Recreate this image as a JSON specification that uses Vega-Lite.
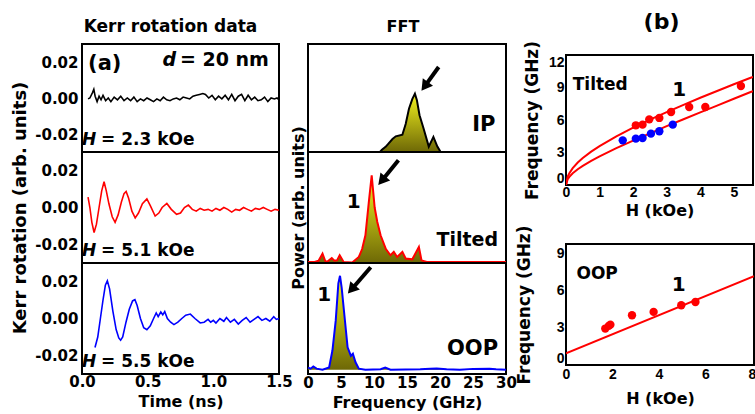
{
"$schema": "https://vega.github.io/schema/vega-lite/v6.json",
"background": "white",
"padding": {"left": 10, "top": 10, "right": 0, "bottom": 0},
"datasets": {
"k23": [{"t":0.046,"v":-0.0005},{"t":0.06,"v":0},{"t":0.08,"v":0.003},{"t":0.09,"v":0.0048},{"t":0.1,"v":0.001},{"t":0.115,"v":-0.002},{"t":0.13,"v":0.001},{"t":0.145,"v":-0.001},{"t":0.16,"v":0.0015},{"t":0.18,"v":-0.0015},{"t":0.2,"v":0},{"t":0.22,"v":-0.002},{"t":0.245,"v":0.0005},{"t":0.27,"v":-0.001},{"t":0.295,"v":0.001},{"t":0.32,"v":-0.0015},{"t":0.345,"v":0},{"t":0.37,"v":-0.0015},{"t":0.395,"v":0.0005},{"t":0.42,"v":-0.002},{"t":0.445,"v":-0.0005},{"t":0.47,"v":-0.0015},{"t":0.495,"v":0},{"t":0.52,"v":-0.001},{"t":0.545,"v":-0.002},{"t":0.57,"v":-0.0005},{"t":0.595,"v":-0.0015},{"t":0.62,"v":0.0005},{"t":0.645,"v":-0.001},{"t":0.67,"v":-0.0015},{"t":0.695,"v":-0.0005},{"t":0.72,"v":0},{"t":0.745,"v":-0.001},{"t":0.77,"v":0.0005},{"t":0.795,"v":0},{"t":0.82,"v":-0.0005},{"t":0.845,"v":0.001},{"t":0.87,"v":0.0015},{"t":0.895,"v":0.002},{"t":0.92,"v":0.0025},{"t":0.94,"v":0.002},{"t":0.965,"v":0},{"t":0.99,"v":0.0015},{"t":1.015,"v":-0.001},{"t":1.04,"v":0.001},{"t":1.065,"v":-0.0005},{"t":1.09,"v":0.0015},{"t":1.115,"v":-0.001},{"t":1.14,"v":0.002},{"t":1.165,"v":-0.0015},{"t":1.19,"v":0.001},{"t":1.215,"v":0.002},{"t":1.24,"v":-0.0015},{"t":1.265,"v":0.0015},{"t":1.29,"v":-0.001},{"t":1.315,"v":0.0005},{"t":1.34,"v":-0.0015},{"t":1.365,"v":-0.001},{"t":1.39,"v":0.0005},{"t":1.415,"v":-0.002},{"t":1.44,"v":0},{"t":1.465,"v":-0.0005},{"t":1.485,"v":0},{"t":1.5,"v":-0.001}],
"k51": [{"t":0.046,"v":0.0056},{"t":0.06,"v":0},{"t":0.075,"v":-0.008},{"t":0.092,"v":-0.0135},{"t":0.11,"v":-0.009},{"t":0.13,"v":0},{"t":0.15,"v":0.009},{"t":0.168,"v":0.0139},{"t":0.185,"v":0.009},{"t":0.205,"v":0.002},{"t":0.23,"v":-0.005},{"t":0.252,"v":-0.008},{"t":0.275,"v":-0.004},{"t":0.3,"v":0.003},{"t":0.32,"v":0.0075},{"t":0.336,"v":0.0087},{"t":0.355,"v":0.005},{"t":0.38,"v":-0.002},{"t":0.405,"v":-0.0056},{"t":0.43,"v":-0.003},{"t":0.46,"v":0.002},{"t":0.494,"v":0.0046},{"t":0.52,"v":0.001},{"t":0.557,"v":-0.0046},{"t":0.585,"v":-0.003},{"t":0.61,"v":0},{"t":0.646,"v":0.0022},{"t":0.68,"v":-0.001},{"t":0.72,"v":-0.0037},{"t":0.75,"v":-0.003},{"t":0.78,"v":0},{"t":0.81,"v":0.0013},{"t":0.84,"v":-0.001},{"t":0.87,"v":-0.002},{"t":0.9,"v":-0.0005},{"t":0.93,"v":-0.0015},{"t":0.96,"v":-0.001},{"t":0.99,"v":-0.002},{"t":1.02,"v":-0.0005},{"t":1.05,"v":-0.0015},{"t":1.08,"v":0},{"t":1.11,"v":-0.001},{"t":1.14,"v":-0.0025},{"t":1.17,"v":-0.001},{"t":1.2,"v":-0.0015},{"t":1.23,"v":0},{"t":1.26,"v":-0.001},{"t":1.29,"v":-0.002},{"t":1.32,"v":-0.0005},{"t":1.35,"v":-0.001},{"t":1.38,"v":0},{"t":1.41,"v":-0.001},{"t":1.44,"v":-0.002},{"t":1.47,"v":-0.001},{"t":1.5,"v":-0.0015}],
"k55": [{"t":0.099,"v":-0.0157},{"t":0.12,"v":-0.01},{"t":0.14,"v":0},{"t":0.16,"v":0.01},{"t":0.178,"v":0.018},{"t":0.193,"v":0.0204},{"t":0.21,"v":0.016},{"t":0.235,"v":0.004},{"t":0.26,"v":-0.006},{"t":0.28,"v":-0.0105},{"t":0.294,"v":-0.0117},{"t":0.31,"v":-0.01},{"t":0.335,"v":-0.002},{"t":0.36,"v":0.005},{"t":0.385,"v":0.0095},{"t":0.403,"v":0.0102},{"t":0.42,"v":0.007},{"t":0.445,"v":0},{"t":0.47,"v":-0.005},{"t":0.494,"v":-0.0061},{"t":0.52,"v":-0.004},{"t":0.545,"v":0},{"t":0.565,"v":0.003},{"t":0.58,"v":0.001},{"t":0.6,"v":0.0035},{"t":0.615,"v":0.002},{"t":0.63,"v":0.0037},{"t":0.65,"v":0},{"t":0.675,"v":-0.002},{"t":0.7,"v":-0.0033},{"t":0.73,"v":-0.002},{"t":0.76,"v":0},{"t":0.79,"v":0.0018},{"t":0.825,"v":0.0024},{"t":0.86,"v":0},{"t":0.9,"v":-0.0024},{"t":0.93,"v":-0.002},{"t":0.96,"v":-0.0005},{"t":0.98,"v":-0.002},{"t":1.0,"v":-0.001},{"t":1.02,"v":-0.0025},{"t":1.05,"v":0},{"t":1.08,"v":-0.0015},{"t":1.1,"v":0.0005},{"t":1.13,"v":-0.002},{"t":1.16,"v":-0.0005},{"t":1.19,"v":-0.003},{"t":1.22,"v":-0.001},{"t":1.25,"v":0.0005},{"t":1.28,"v":-0.002},{"t":1.31,"v":-0.0005},{"t":1.34,"v":0.001},{"t":1.37,"v":-0.001},{"t":1.4,"v":0},{"t":1.43,"v":-0.0015},{"t":1.46,"v":0.001},{"t":1.48,"v":-0.0005},{"t":1.5,"v":0}],
"ip": [{"f":0,"p":0},{"f":10.9,"p":0},{"f":11.2,"p":0.02},{"f":11.8,"p":0.05},{"f":12.8,"p":0.12},{"f":13.3,"p":0.145},{"f":14.3,"p":0.16},{"f":14.8,"p":0.26},{"f":15.3,"p":0.4},{"f":15.8,"p":0.49},{"f":16.2,"p":0.54},{"f":16.5,"p":0.48},{"f":16.9,"p":0.34},{"f":17.5,"p":0.22},{"f":18.3,"p":0.05},{"f":19.0,"p":0.14},{"f":19.6,"p":0.05},{"f":20.1,"p":0},{"f":30,"p":0}],
"tilt": [{"f":0,"p":0.01},{"f":1.0,"p":0.01},{"f":1.6,"p":0.02},{"f":2.2,"p":0.084},{"f":2.6,"p":0.02},{"f":2.9,"p":0.01},{"f":3.6,"p":0.045},{"f":4.0,"p":0.02},{"f":4.4,"p":0.024},{"f":4.8,"p":0.07},{"f":5.4,"p":0.01},{"f":6.7,"p":0.005},{"f":7.7,"p":0.054},{"f":8.2,"p":0.126},{"f":8.7,"p":0.25},{"f":9.2,"p":0.54},{"f":9.65,"p":0.79},{"f":10.1,"p":0.5},{"f":10.5,"p":0.37},{"f":11.0,"p":0.25},{"f":11.8,"p":0.126},{"f":12.5,"p":0.07},{"f":13.0,"p":0.1},{"f":13.5,"p":0.054},{"f":14.3,"p":0.1},{"f":14.8,"p":0.04},{"f":15.8,"p":0.033},{"f":16.8,"p":0.144},{"f":17.2,"p":0.024},{"f":18.0,"p":0.01},{"f":30,"p":0.01}],
"oopf": [{"f":0,"p":0.02},{"f":0.4,"p":0.01},{"f":0.8,"p":0.03},{"f":1.3,"p":0.01},{"f":2.2,"p":0},{"f":3.2,"p":0.022},{"f":3.7,"p":0.18},{"f":4.2,"p":0.46},{"f":4.6,"p":0.81},{"f":4.85,"p":0.88},{"f":5.1,"p":0.77},{"f":5.5,"p":0.52},{"f":6.0,"p":0.21},{"f":6.5,"p":0.13},{"f":6.8,"p":0.15},{"f":7.2,"p":0.07},{"f":7.7,"p":0.01},{"f":8.7,"p":0},{"f":11.0,"p":0.005},{"f":11.7,"p":0.02},{"f":12.5,"p":0},{"f":17,"p":0.005},{"f":18.5,"p":0.01},{"f":19.5,"p":0.012},{"f":21,"p":0.005},{"f":23,"p":0},{"f":25,"p":0.008},{"f":27.5,"p":0.01},{"f":28.5,"p":0.005},{"f":30,"p":0}],
"tiltPts": [{"mode":"1","H":2.08,"fr":5.51},{"mode":"1","H":2.28,"fr":5.57},{"mode":"1","H":2.48,"fr":6.06},{"mode":"1","H":2.78,"fr":6.19},{"mode":"1","H":3.13,"fr":6.74},{"mode":"1","H":3.67,"fr":7.2},{"mode":"1","H":4.15,"fr":7.2},{"mode":"1","H":5.21,"fr":9.14},{"mode":"2","H":1.69,"fr":4.12},{"mode":"2","H":2.08,"fr":4.28},{"mode":"2","H":2.28,"fr":4.34},{"mode":"2","H":2.53,"fr":4.74},{"mode":"2","H":2.78,"fr":4.96},{"mode":"2","H":3.18,"fr":5.57}],
"tiltFit": [{"curve":"u","H":0,"fr":0},{"curve":"u","H":0.05,"fr":0.77},{"curve":"u","H":0.1,"fr":1.09},{"curve":"u","H":0.2,"fr":1.55},{"curve":"u","H":0.35,"fr":2.07},{"curve":"u","H":0.5,"fr":2.49},{"curve":"u","H":0.75,"fr":3.08},{"curve":"u","H":1,"fr":3.59},{"curve":"u","H":1.5,"fr":4.49},{"curve":"u","H":2,"fr":5.29},{"curve":"u","H":2.5,"fr":6.03},{"curve":"u","H":3,"fr":6.73},{"curve":"u","H":3.5,"fr":7.4},{"curve":"u","H":4,"fr":8.05},{"curve":"u","H":4.5,"fr":8.68},{"curve":"u","H":5,"fr":9.3},{"curve":"u","H":5.5,"fr":9.9},{"curve":"u","H":5.57,"fr":9.98},{"curve":"l","H":0,"fr":0},{"curve":"l","H":0.05,"fr":0.53},{"curve":"l","H":0.1,"fr":0.75},{"curve":"l","H":0.2,"fr":1.08},{"curve":"l","H":0.35,"fr":1.46},{"curve":"l","H":0.5,"fr":1.77},{"curve":"l","H":0.75,"fr":2.23},{"curve":"l","H":1,"fr":2.64},{"curve":"l","H":1.5,"fr":3.4},{"curve":"l","H":2,"fr":4.1},{"curve":"l","H":2.5,"fr":4.77},{"curve":"l","H":3,"fr":5.43},{"curve":"l","H":3.5,"fr":6.07},{"curve":"l","H":4,"fr":6.71},{"curve":"l","H":4.5,"fr":7.33},{"curve":"l","H":5,"fr":7.96},{"curve":"l","H":5.5,"fr":8.58},{"curve":"l","H":5.57,"fr":8.67}],
"oopPts": [{"H":1.69,"fr":2.95},{"H":1.84,"fr":3.17},{"H":1.91,"fr":3.27},{"H":2.84,"fr":4.03},{"H":3.77,"fr":4.3},{"H":4.96,"fr":4.84},{"H":5.57,"fr":5.1}],
"oopFit": [{"H":0,"fr":0.94},{"H":8.09,"fr":7.19}]
},
"spacing": -6,
"hconcat": [
{
"vconcat": [
{
"width": 197, "height": 108,
"title": {"text": "Kerr rotation data", "offset": 8, "fontSize": 17, "dx": -10},
"encoding": {
"x": {"field": "t", "type": "quantitative", "scale": {"domain": [0, 1.5]}, "axis": null},
"y": {"field": "v", "type": "quantitative", "scale": {"domain": [-0.03, 0.03]}, "axis": {"values": [-0.02, 0, 0.02], "labelExpr": "replace(format(datum.value,'.2f'),'\u2212','-')", "title": null, "labelPadding": 4}}
},
"layer": [
{"data": {"name": "k23"}, "mark": {"type": "line", "color": "black", "strokeWidth": 1.6}},
{"data": {"values": [{"t": 0.046, "v": 0.0189, "s": "(a)"}]}, "mark": {"type": "text", "align": "left", "baseline": "middle", "fontSize": 21}, "encoding": {"text": {"field": "s"}}},
{"data": {"values": [{"t": 0.716, "v": 0.0211, "s": "d"}]}, "mark": {"type": "text", "align": "right", "baseline": "middle", "fontSize": 19, "fontStyle": "italic"}, "encoding": {"text": {"field": "s"}}},
{"data": {"values": [{"t": 0.746, "v": 0.0211, "s": "= 20 nm"}]}, "mark": {"type": "text", "align": "left", "baseline": "middle", "fontSize": 19}, "encoding": {"text": {"field": "s"}}},
{"data": {"values": [{"t": 0.0, "v": -0.0235, "s": "H"}]}, "mark": {"type": "text", "align": "left", "baseline": "middle", "fontSize": 17, "fontStyle": "italic"}, "encoding": {"text": {"field": "s"}}},
{"data": {"values": [{"t": 0.145, "v": -0.0235, "s": "= 2.3 kOe"}]}, "mark": {"type": "text", "align": "left", "baseline": "middle", "fontSize": 17}, "encoding": {"text": {"field": "s"}}}
]
},
{
"width": 197, "height": 111,
"encoding": {
"x": {"field": "t", "type": "quantitative", "scale": {"domain": [0, 1.5]}, "axis": null},
"y": {"field": "v", "type": "quantitative", "scale": {"domain": [-0.03, 0.03]}, "axis": {"values": [-0.02, 0, 0.02], "labelExpr": "replace(format(datum.value,'.2f'),'\u2212','-')", "title": "Kerr rotation (arb. units)", "titleFontSize": 18, "titlePadding": 5, "labelPadding": 4}}
},
"layer": [
{"data": {"name": "k51"}, "mark": {"type": "line", "color": "#ff0000", "strokeWidth": 1.6}},
{"data": {"values": [{"t": 0.0, "v": -0.0235, "s": "H"}]}, "mark": {"type": "text", "align": "left", "baseline": "middle", "fontSize": 17, "fontStyle": "italic"}, "encoding": {"text": {"field": "s"}}},
{"data": {"values": [{"t": 0.145, "v": -0.0235, "s": "= 5.1 kOe"}]}, "mark": {"type": "text", "align": "left", "baseline": "middle", "fontSize": 17}, "encoding": {"text": {"field": "s"}}}
]
},
{
"width": 197, "height": 111,
"encoding": {
"x": {"field": "t", "type": "quantitative", "scale": {"domain": [0, 1.5]}, "axis": {"values": [0, 0.5, 1, 1.5], "format": ".1f", "title": "Time (ns)", "labelFlush": false, "labelOverlap": false, "labelPadding": 0, "titlePadding": 4}},
"y": {"field": "v", "type": "quantitative", "scale": {"domain": [-0.03, 0.03]}, "axis": {"values": [-0.02, 0, 0.02], "labelExpr": "replace(format(datum.value,'.2f'),'\u2212','-')", "title": null, "labelPadding": 4}}
},
"layer": [
{"data": {"name": "k55"}, "mark": {"type": "line", "color": "#0000ff", "strokeWidth": 1.6}},
{"data": {"values": [{"t": 0.0, "v": -0.0235, "s": "H"}]}, "mark": {"type": "text", "align": "left", "baseline": "middle", "fontSize": 17, "fontStyle": "italic"}, "encoding": {"text": {"field": "s"}}},
{"data": {"values": [{"t": 0.145, "v": -0.0235, "s": "= 5.5 kOe"}]}, "mark": {"type": "text", "align": "left", "baseline": "middle", "fontSize": 17}, "encoding": {"text": {"field": "s"}}}
]
}
],
"spacing": 0,
"bounds": "flush"
},
{
"spacing": -4,
"hconcat": [
{
"vconcat": [
{
"width": 198, "height": 108,
"title": {"text": "FFT", "offset": 9, "fontSize": 16, "dx": -4},
"encoding": {
"x": {"field": "f", "type": "quantitative", "scale": {"domain": [0, 30]}, "axis": null},
"y": {"field": "p", "type": "quantitative", "scale": {"domain": [0, 1]}, "axis": {"labels": false, "title": null}}
},
"layer": [
{"data": {"name": "ip"}, "mark": {"type": "area", "color": {"gradient": "linear", "x1": 0, "y1": 0, "x2": 0, "y2": 1, "stops": [{"offset": 0, "color": "#f2f21e"}, {"offset": 1, "color": "#6e6806"}]}}},
{"data": {"name": "ip"}, "mark": {"type": "line", "color": "black", "strokeWidth": 2}},
{"data": {"values": [{"f": 19.8, "p": 0.787, "f2": 17.68, "p2": 0.607}]}, "mark": {"type": "rule", "color": "black", "strokeWidth": 4}, "encoding": {"x2": {"field": "f2"}, "y2": {"field": "p2"}}},
{"data": {"values": [{"f": 17.68, "p": 0.607}]}, "mark": {"type": "point", "shape": "triangle-up", "filled": true, "color": "black", "opacity": 1, "size": 160, "angle": 216}},
{"data": {"values": [{"f": 28.4, "p": 0.25, "s": "IP"}]}, "mark": {"type": "text", "align": "right", "baseline": "middle", "fontSize": 21}, "encoding": {"text": {"field": "s"}}}
]
},
{
"width": 198, "height": 111,
"encoding": {
"x": {"field": "f", "type": "quantitative", "scale": {"domain": [0, 30]}, "axis": null},
"y": {"field": "p", "type": "quantitative", "scale": {"domain": [0, 1]}, "axis": {"labels": false, "title": "Power (arb. units)", "titleFontSize": 16, "titlePadding": 2}}
},
"layer": [
{"data": {"name": "tilt"}, "mark": {"type": "area", "color": {"gradient": "linear", "x1": 0, "y1": 0, "x2": 0, "y2": 1, "stops": [{"offset": 0, "color": "#f2f21e"}, {"offset": 1, "color": "#6e6806"}]}}},
{"data": {"name": "tilt"}, "mark": {"type": "line", "color": "#ff0000", "strokeWidth": 2}},
{"data": {"values": [{"f": 13.7, "p": 0.925, "f2": 11.18, "p2": 0.741}]}, "mark": {"type": "rule", "color": "black", "strokeWidth": 4}, "encoding": {"x2": {"field": "f2"}, "y2": {"field": "p2"}}},
{"data": {"values": [{"f": 11.18, "p": 0.741}]}, "mark": {"type": "point", "shape": "triangle-up", "filled": true, "color": "black", "opacity": 1, "size": 160, "angle": 220}},
{"data": {"values": [{"f": 6.94, "p": 0.55, "s": "1"}]}, "mark": {"type": "text", "align": "center", "baseline": "middle", "fontSize": 20}, "encoding": {"text": {"field": "s"}}},
{"data": {"values": [{"f": 28.8, "p": 0.207, "s": "Tilted"}]}, "mark": {"type": "text", "align": "right", "baseline": "middle", "fontSize": 19}, "encoding": {"text": {"field": "s"}}}
]
},
{
"width": 198, "height": 111,
"encoding": {
"x": {"field": "f", "type": "quantitative", "scale": {"domain": [0, 30]}, "axis": {"values": [0, 5, 10, 15, 20, 25, 30], "title": "Frequency (GHz)", "labelFlush": false, "labelOverlap": false, "labelPadding": 1, "titlePadding": 4}},
"y": {"field": "p", "type": "quantitative", "scale": {"domain": [-0.04, 1]}, "axis": {"labels": false, "title": null}}
},
"layer": [
{"data": {"name": "oopf"}, "mark": {"type": "area", "color": {"gradient": "linear", "x1": 0, "y1": 0, "x2": 0, "y2": 1, "stops": [{"offset": 0, "color": "#f2f21e"}, {"offset": 1, "color": "#6e6806"}]}}},
{"data": {"name": "oopf"}, "mark": {"type": "line", "color": "#0000ff", "strokeWidth": 2}},
{"data": {"values": [{"f": 9.5, "p": 0.96, "f2": 6.59, "p2": 0.752}]}, "mark": {"type": "rule", "color": "black", "strokeWidth": 4}, "encoding": {"x2": {"field": "f2"}, "y2": {"field": "p2"}}},
{"data": {"values": [{"f": 6.59, "p": 0.752}]}, "mark": {"type": "point", "shape": "triangle-up", "filled": true, "color": "black", "opacity": 1, "size": 160, "angle": 221}},
{"data": {"values": [{"f": 2.46, "p": 0.7, "s": "1"}]}, "mark": {"type": "text", "align": "center", "baseline": "middle", "fontSize": 20}, "encoding": {"text": {"field": "s"}}},
{"data": {"values": [{"f": 28.8, "p": 0.19, "s": "OOP"}]}, "mark": {"type": "text", "align": "right", "baseline": "middle", "fontSize": 21}, "encoding": {"text": {"field": "s"}}}
]
}
],
"spacing": 0,
"bounds": "flush"
},
{
"vconcat": [
{
"width": 187, "height": 11,
"data": {"values": []},
"mark": {"type": "point", "opacity": 0},
"view": {"stroke": null}
},
{
"vconcat": [
{
"width": 187, "height": 130,
"title": {"text": "(b)", "offset": 6, "fontSize": 22, "dx": 2},
"encoding": {
"x": {"field": "H", "type": "quantitative", "scale": {"domain": [0, 5.57]}, "axis": {"values": [0, 1, 2, 3, 4, 5], "title": "H (kOe)", "labelFlush": false, "labelOverlap": false, "labelFont": "Liberation Sans", "labelFontSize": 14, "labelPadding": 0, "titlePadding": 3}},
"y": {"field": "fr", "type": "quantitative", "scale": {"domain": [0, 12]}, "axis": {"values": [0, 3, 6, 9, 12], "title": "Frequency (GHz)", "titleFontSize": 17, "labelFlush": true, "labelOverlap": false, "labelFont": "Liberation Sans", "labelFontSize": 14, "labelPadding": 2, "titlePadding": 7}}
},
"layer": [
{"data": {"name": "tiltFit"}, "mark": {"type": "line", "color": "#ff0000", "strokeWidth": 2, "clip": true}, "encoding": {"detail": {"field": "curve"}}},
{"data": {"name": "tiltPts"}, "mark": {"type": "point", "filled": true, "size": 70, "opacity": 1}, "encoding": {"color": {"field": "mode", "type": "nominal", "scale": {"domain": ["1", "2"], "range": ["#ff0000", "#0000ff"]}, "legend": null}}},
{"data": {"values": [{"H": 0.2, "fr": 9.2, "s": "Tilted"}]}, "mark": {"type": "text", "align": "left", "baseline": "middle", "fontSize": 17}, "encoding": {"text": {"field": "s"}}},
{"data": {"values": [{"H": 3.37, "fr": 8.74, "s": "1"}]}, "mark": {"type": "text", "align": "center", "baseline": "middle", "fontSize": 20}, "encoding": {"text": {"field": "s"}}}
]
},
{
"width": 188, "height": 121,
"encoding": {
"x": {"field": "H", "type": "quantitative", "scale": {"domain": [0, 8.09]}, "axis": {"values": [0, 2, 4, 6, 8], "title": "H (kOe)", "labelFlush": false, "labelOverlap": false, "labelFont": "Liberation Sans", "labelFontSize": 14, "labelPadding": 2, "titlePadding": 9}},
"y": {"field": "fr", "type": "quantitative", "scale": {"domain": [0, 9.8]}, "axis": {"values": [0, 3, 6, 9], "title": "Frequency (GHz)", "titleFontSize": 17, "labelFlush": true, "labelOverlap": false, "labelFont": "Liberation Sans", "labelFontSize": 14, "labelPadding": 2, "titlePadding": 23}}
},
"layer": [
{"data": {"name": "oopFit"}, "mark": {"type": "line", "color": "#ff0000", "strokeWidth": 2, "clip": true}},
{"data": {"name": "oopPts"}, "mark": {"type": "point", "filled": true, "size": 70, "opacity": 1, "color": "#ff0000"}},
{"data": {"values": [{"H": 0.45, "fr": 7.4, "s": "OOP"}]}, "mark": {"type": "text", "align": "left", "baseline": "middle", "fontSize": 17}, "encoding": {"text": {"field": "s"}}},
{"data": {"values": [{"H": 4.85, "fr": 6.45, "s": "1"}]}, "mark": {"type": "text", "align": "center", "baseline": "middle", "fontSize": 20}, "encoding": {"text": {"field": "s"}}}
]
}
],
"spacing": 59,
"bounds": "flush"
}
],
"spacing": 0,
"bounds": "flush"
}
]
}
],
"config": {
"view": {"stroke": "black", "strokeWidth": 2},
"axis": {"labelFont": "DejaVu Sans", "labelFontWeight": "bold", "labelFontSize": 15, "labelColor": "black", "titleFont": "DejaVu Sans", "titleFontWeight": "bold", "titleFontSize": 16, "titleColor": "black", "grid": false, "ticks": false, "domain": false, "labelFlush": false},
"title": {"font": "DejaVu Sans", "fontWeight": "bold", "color": "black", "anchor": "middle"},
"text": {"font": "DejaVu Sans", "fontWeight": "bold", "color": "black"}
}
}
